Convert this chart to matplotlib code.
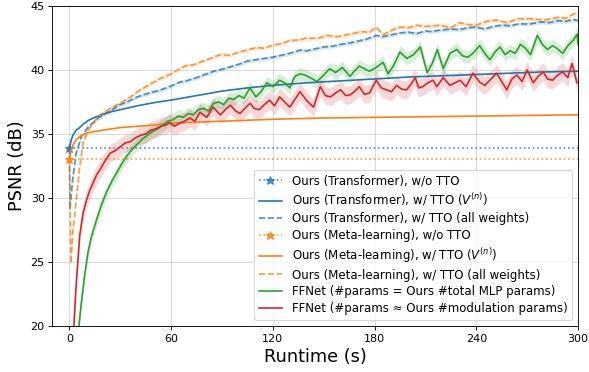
import numpy as np
import matplotlib
matplotlib.use("Agg")
import matplotlib.pyplot as plt

# ---------------------------------------------------------------------------
# Data (runtime in s, PSNR in dB)
# ---------------------------------------------------------------------------
NOTTO_T = [0, 300]
TF_NOTTO = 33.9
META_NOTTO = 33.05

TF_V_T = [0, 0.5, 1, 2, 3, 4, 6, 8, 11, 15, 20, 25, 30, 40, 50, 60, 75, 90,
          105, 120, 140, 160, 180, 200, 220, 240, 260, 280, 300]
TF_V = [33.9, 34.2, 34.5, 34.9, 35.1, 35.3, 35.5, 35.75, 36.05, 36.3, 36.55,
        36.75, 36.9, 37.2, 37.45, 37.65, 38.0, 38.35, 38.6, 38.8, 39.0, 39.15,
        39.3, 39.45, 39.55, 39.65, 39.75, 39.85, 39.9]

META_V_T = [0, 0.5, 1, 2, 3, 4, 6, 8, 11, 15, 20, 30, 40, 50, 60, 80, 100,
            120, 150, 180, 210, 240, 270, 300]
META_V = [33.05, 33.4, 33.75, 34.1, 34.35, 34.55, 34.8, 34.95, 35.1, 35.2,
          35.3, 35.5, 35.6, 35.7, 35.85, 35.95, 36.05, 36.15, 36.25, 36.3,
          36.35, 36.4, 36.45, 36.5]

TF_ALL_T = [0, 0.3, 2, 4, 7, 11, 17, 24, 30, 34, 40, 47, 53, 60, 65, 69, 75,
            80, 85, 90, 95, 100, 105, 110, 115, 120, 125, 130, 136, 140, 145,
            150, 155, 160, 165, 170, 175, 181, 185, 190, 195, 200, 205, 210,
            213, 218, 225, 230, 235, 240, 245, 250, 255, 260, 265, 272, 278,
            283, 288, 293, 297, 300]
TF_ALL = [33.9, 29.1, 31.6, 33.5, 34.8, 35.55, 36.25, 36.8, 37.3, 37.5, 37.9,
          38.2, 38.4, 38.75, 39.05, 39.15, 39.4, 39.65, 39.9, 40.05, 40.25,
          40.45, 40.7, 40.8, 40.9, 41.0, 41.15, 41.3, 41.55, 41.5, 41.65, 41.8,
          41.85, 42.0, 42.1, 42.25, 42.4, 42.7, 42.6, 42.75, 42.9, 42.95,
          42.85, 43.05, 43.0, 43.1, 43.2, 43.15, 43.3, 43.35, 43.2, 43.4,
          43.5, 43.45, 43.6, 43.6, 43.75, 43.7, 43.85, 43.8, 43.95, 43.85]

META_ALL_T = [0, 0.9, 2, 4, 6, 8, 11, 14, 17, 24, 31, 34, 40, 47, 53, 60, 65,
              69, 73, 80, 89, 95, 100, 104.5, 110, 115, 120, 125, 130, 136,
              140, 146, 151.7, 158, 165.5, 172, 177, 181, 185, 190, 195, 200,
              205, 210, 218.6, 225, 230, 235, 240, 246, 252, 258, 265, 272,
              280, 288, 293, 297, 300]
META_ALL = [33.05, 24.9, 27.3, 29.85, 32.4, 34.3, 35.3, 35.85, 36.4, 37.0,
            37.5, 37.7, 38.3, 38.85, 39.3, 39.7, 40.1, 40.35, 40.4, 40.75,
            41.2, 41.15, 41.4, 41.55, 41.75, 41.7, 41.95, 42.05, 42.3, 42.35,
            42.5, 42.45, 42.7, 42.6, 42.8, 43.0, 42.95, 43.35, 42.75, 43.1,
            43.35, 43.3, 43.5, 43.4, 43.5, 43.3, 43.7, 43.55, 43.5, 43.8, 43.9,
            43.7, 44.0, 44.0, 43.9, 44.1, 44.05, 44.35, 44.5]

FF_TOTAL_T = [5.6, 7, 9, 11, 13, 16, 19, 22, 25, 28, 31, 34, 37, 40, 43, 46,
              49, 52, 55, 58, 61, 64, 67, 70, 73, 76, 79, 82, 85, 88, 91, 94,
              97, 100, 103, 106.5, 110, 113, 116.5, 120, 124, 127, 130, 133,
              136, 139, 142, 146, 150, 153.5, 157, 161, 165.5, 168, 171, 174,
              177, 181, 185, 188, 191, 195, 199, 203, 207, 211, 214, 217,
              220.5, 224.5, 228.5, 232, 235, 238, 242, 245, 248, 251, 254,
              257, 260, 263, 266, 269, 272, 276, 279, 282, 285, 287.5, 291,
              294, 297, 299.5, 300]
FF_TOTAL = [20.0, 21.8, 24.0, 25.8, 27.0, 28.3, 29.5, 30.5, 31.3, 32.0, 32.7,
            33.3, 33.8, 34.2, 34.6, 34.9, 35.2, 35.4, 35.7, 36.0, 36.1, 36.4,
            36.3, 36.6, 36.5, 36.9, 37.0, 36.8, 37.4, 37.5, 37.3, 37.8, 37.7,
            38.0, 37.8, 38.6, 37.9, 38.3, 39.0, 38.7, 39.2, 39.0, 38.6, 39.5,
            39.7, 39.6, 39.4, 39.1, 39.6, 40.1, 39.8, 40.2, 39.5, 39.9, 40.3,
            40.1, 39.9, 40.2, 40.6, 39.7, 40.3, 41.4, 40.9, 41.2, 41.8, 39.8,
            40.5, 41.6, 40.1, 41.3, 41.6, 41.1, 41.0, 41.3, 41.9, 41.3, 40.8,
            41.4, 41.8, 41.2, 41.5, 41.3, 42.0, 41.7, 41.2, 42.7, 42.0, 41.6,
            41.9, 41.7, 41.3, 41.9, 42.3, 42.8, 42.0]

FF_MOD_T = [2.6, 4, 6, 8, 10, 12, 14, 16, 18, 21, 24, 27, 30, 33, 36, 39, 42,
            45, 48, 51, 54, 57, 59, 62, 65, 68, 71, 74, 77, 81, 84.7, 89, 92,
            95, 98, 100.6, 103.5, 106.5, 109, 112, 115, 118, 121, 124, 127,
            130, 133, 136, 140, 144, 148, 151, 154, 157, 160, 163, 165.5, 168,
            171, 174, 177, 181, 184, 187, 190, 193, 196, 199, 201.5, 204, 206,
            208.5, 211.5, 214.5, 216.7, 220.5, 224.5, 227.5, 230.4, 234, 238,
            242, 245, 248, 252, 255, 258, 261, 264, 267, 270, 273.6, 276.5,
            279.5, 282, 285, 288, 291, 294, 296.5, 299.4]
FF_MOD = [20.0, 23.3, 27.0, 28.8, 29.8, 30.6, 31.2, 31.8, 32.2, 32.9, 33.5,
          33.7, 34.0, 34.3, 34.4, 34.7, 34.9, 35.0, 35.3, 35.4, 35.6, 35.7,
          35.9, 35.6, 35.85, 36.0, 36.25, 36.0, 36.7, 36.3, 37.1, 36.5, 36.9,
          37.25, 36.8, 36.6, 37.0, 37.4, 37.0, 36.9, 37.3, 37.65, 37.2, 37.9,
          37.5, 37.1, 37.7, 38.3, 37.6, 37.1, 38.7, 38.0, 37.9, 38.2, 38.45,
          38.0, 38.05, 38.3, 38.7, 38.1, 38.2, 39.2, 38.6, 38.45, 38.3, 38.8,
          38.5, 38.45, 38.9, 39.4, 38.6, 38.7, 39.0, 39.2, 38.7, 39.4, 38.8,
          39.0, 39.2, 38.7, 39.75, 39.05, 38.8, 39.2, 39.75, 39.1, 38.45,
          39.3, 39.6, 39.1, 40.0, 39.0, 39.5, 39.85, 39.3, 39.2, 39.6, 39.85,
          39.4, 40.5, 39.0]

# run-to-run spread (half width of shaded band, dB)
SPREAD_ALL = 0.15
SPREAD_TOTAL = 0.5
SPREAD_MOD = 0.7

LABELS = [
    "Ours (Transformer), w/o TTO",
    "Ours (Transformer), w/ TTO ($V^{(n)}$)",
    "Ours (Transformer), w/ TTO (all weights)",
    "Ours (Meta-learning), w/o TTO",
    "Ours (Meta-learning), w/ TTO ($V^{(n)}$)",
    "Ours (Meta-learning), w/ TTO (all weights)",
    "FFNet (#params = Ours #total MLP params)",
    "FFNet (#params \u2248 Ours #modulation params)",
]

BLUE, ORANGE, GREEN, RED = "tab:blue", "tab:orange", "tab:green", "tab:red"


def band(ax, t, v, spread, color):
    v = np.asarray(v)
    ax.fill_between(t, v - spread, v + spread, color=color, alpha=0.18, lw=0)


fig = plt.figure(figsize=(589 / 80, 372 / 80), dpi=80)
ax = fig.add_axes([0.0891, 0.1237, 0.8922, 0.8602])

ax.plot(NOTTO_T, [TF_NOTTO] * len(NOTTO_T), ls=":", color=BLUE, alpha=0.8,
        marker="*", markevery=[0], ms=8, label=LABELS[0])
ax.plot(TF_V_T, TF_V, color=BLUE, label=LABELS[1])
band(ax, TF_ALL_T, TF_ALL, SPREAD_ALL, BLUE)
ax.plot(TF_ALL_T, TF_ALL, ls="--", color=BLUE, alpha=0.8, label=LABELS[2])

ax.plot(NOTTO_T, [META_NOTTO] * len(NOTTO_T), ls=":", color=ORANGE, alpha=0.8,
        marker="*", markevery=[0], ms=8, label=LABELS[3])
ax.plot(META_V_T, META_V, color=ORANGE, label=LABELS[4])
band(ax, META_ALL_T, META_ALL, SPREAD_ALL, ORANGE)
ax.plot(META_ALL_T, META_ALL, ls="--", color=ORANGE, alpha=0.8, label=LABELS[5])

band(ax, FF_TOTAL_T, FF_TOTAL, SPREAD_TOTAL, GREEN)
ax.plot(FF_TOTAL_T, FF_TOTAL, color=GREEN, label=LABELS[6])
band(ax, FF_MOD_T, FF_MOD, SPREAD_MOD, RED)
ax.plot(FF_MOD_T, FF_MOD, color=RED, label=LABELS[7])

ax.set_xlim(-10, 300)
ax.set_ylim(20, 45)
ax.set_xticks(np.arange(0, 301, 60))
ax.set_yticks(np.arange(20, 46, 5))
ax.grid(alpha=0.5)
ax.set_xlabel("Runtime (s)", fontsize=16)
ax.set_ylabel("PSNR (dB)", fontsize=16)
ax.legend(loc="lower right", fontsize=10.6, labelspacing=0.33)

fig.savefig("out.png", dpi=80)
